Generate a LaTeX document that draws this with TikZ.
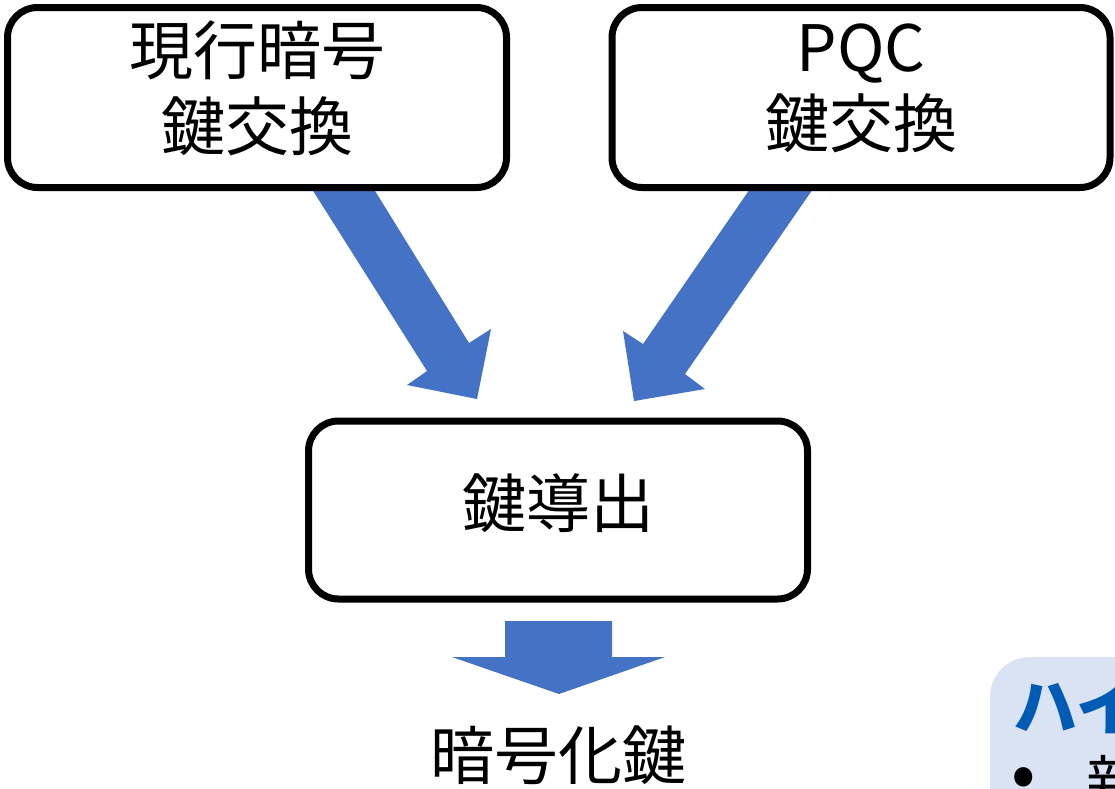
\documentclass[tikz,border=0pt]{standalone}
\usepackage{fontspec}
\setmainfont{Noto Sans CJK JP}
\definecolor{arrowblue}{HTML}{4472C4}
\definecolor{panelblue}{HTML}{DAE3F3}
\definecolor{titleblue}{HTML}{005BB5}
\tikzset{
  box/.style={draw=black, line width=7pt, rounded corners=30pt, fill=white},
  big/.style={font=\fontsize{64}{76}\selectfont, align=center, inner sep=0pt},
  blockarrow/.style={fill=arrowblue, draw=none},
}
\begin{document}
\begin{tikzpicture}[x=1pt,y=-1pt]
\clip (0,0) rectangle (1115,788);
\fill[white] (0,0) rectangle (1115,788);
% block arrows
\coordinate (la1) at (310,186);
\coordinate (la2) at (372,186);
\fill[blockarrow] (la1) -- (la2) -- (469,343) -- (491,329) -- (477,399) -- (407,385) -- (427,371) -- cycle;
\coordinate (ra1) at (752,186);
\coordinate (ra2) at (815,186);
\fill[blockarrow] (ra1) -- (ra2) -- (685,374) -- (705,389) -- (634,401) -- (623,331) -- (643,344) -- cycle;
\fill[blockarrow] (505,621) -- (612,621) -- (612,657) -- (665,657) -- (559,694) -- (452,657) -- (505,657) -- cycle;
% boxes
\draw[box] (7.5,7.5) rectangle (506.5,187.5);
\draw[box] (612,7.5) rectangle (1110,187.5);
\draw[box] (308.5,421) rectangle (807.5,599);
\node[big] (t1) at (257,88) {現行暗号\\鍵交換};
\node[big] (t2) at (861,88) {PQC\\鍵交換};
\node[big] (t3) at (558,503) {鍵導出};
\node[big] (t4) at (558,755) {暗号化鍵};
% side panel
\fill[panelblue, rounded corners=40pt] (990,657) rectangle (1200,900);
\node[anchor=west, inner sep=0pt, text=titleblue, font=\fontsize{64}{70}\selectfont\bfseries] (ht) at (1013,706) {ハイ};
\node[inner sep=0pt, font=\fontsize{72}{76}\selectfont] (b1) at (1024,783) {•};
\node[anchor=west, inner sep=0pt, font=\fontsize{60}{64}\selectfont] (b1t) at (1086,783) {新};
\end{tikzpicture}
\end{document}
